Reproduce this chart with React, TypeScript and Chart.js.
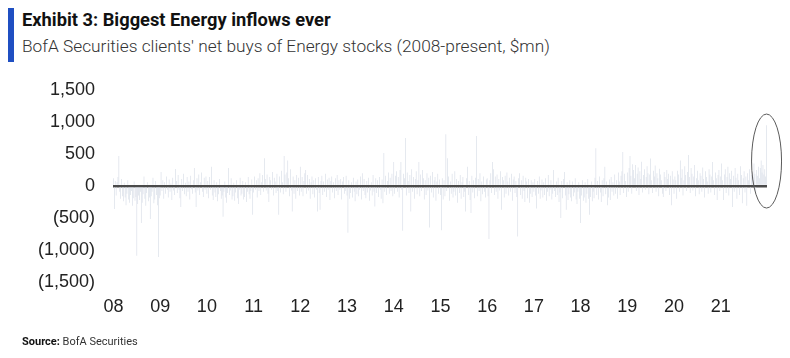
import React, { useEffect, useRef } from "react";
import { Chart, registerables } from "chart.js";

Chart.register(...registerables);

const yearLabels = ["08", "09", "10", "11", "12", "13", "14", "15", "16", "17", "18", "19", "20", "21"];

const y2008 = [120, -360, 80, -150, 60, 140, 470, -90, -200, 110, -160, -240, 50, -180, -300, -120, 90, -210, -260, -140, -80, -310, -190, 70, -230, -170, -1090, -280, -150, -220, -90, -580, -260, -130, 150, -200, -310, -110, 60, -240, -180, -515, -160, -90, 130, -270, -210, 80, -140, -300, -1110, -190];
const y2009 = [-150, 220, -80, 90, -200, 60, -120, 150, -60, -180, 100, -90, 40, -220, 130, -70, -140, 265, 80, -110, 170, -60, -190, -330, 110, -80, 190, -130, 50, -160, 140, -90, 70, -210, 160, -50, -120, 90, 280, -100, -330, 120, -70, 180, -140, 60, 210, -90, -170, 130, -60, 150];
const y2010 = [-120, 80, -190, 140, -60, 300, -150, -220, 90, -100, -170, 60, -240, -130, 110, -80, -200, -150, -480, -90, 70, -180, -260, -110, 280, -140, -70, 120, -210, -160, 50, -230, -100, 90, -190, -280, -60, 130, -150, -120, 80, -210, -170, 60, -250, -90, 140, -130, -200, -80, 100, -450];
const y2011 = [-100, 150, -60, 90, -180, 120, -80, 200, -140, 60, 170, -90, 435, 110, -70, 180, -120, -250, 140, 90, -60, 220, -150, 130, 70, -110, 190, -80, -450, 150, -100, 240, 60, -130, 470, 180, -90, 210, 400, 120, -160, 260, -70, -400, 150, -120, 90, -200, 170, -80, 130, -150];
const y2012 = [300, -90, 140, -160, 80, 200, 250, -120, 170, -70, 110, -200, 60, 150, -130, 90, -180, 120, -60, -400, 140, -110, -370, 80, 160, -140, 70, -90, 190, -170, 100, -60, 130, -220, 80, 150, -100, 60, -190, 120, -80, 170, -140, 90, -60, 110, -210, 70, 140, -120, -80, 160];
const y2013 = [-150, -730, 90, -200, -110, 60, -180, 130, -90, -240, 70, -130, 100, -160, -60, 150, -210, 200, -80, 110, -140, -190, 80, -100, 130, -230, -70, 60, -150, 170, -90, -320, 120, -110, 90, -170, 140, -60, -200, 100, -270, 515, -90, 160, -140, 80, 210, -120, 130, -80, 190, -160];
const y2014 = [375, -120, 160, 230, -90, 140, -180, 250, 375, -60, -700, 190, 120, 750, -150, 210, 80, -110, 170, -400, 260, -90, 140, -200, 110, 230, -130, 90, 375, -160, 180, -80, 250, 120, -210, 90, -140, 200, -70, 130, -650, 160, -100, 220, -180, 90, 140, -230, 70, 190, -120, 100];
const y2015 = [-140, -690, 120, -210, 90, -160, 810, -80, 435, 150, -230, 70, -120, 190, -180, -90, 230, -150, 110, -260, 80, -110, 170, -200, 60, 140, -170, -90, -400, 120, 300, -140, 80, -220, -420, 160, -100, 90, -190, 130, 780, -160, 110, -80, 200, -240, 70, -130, 150, -90, -180, 100];
const y2016 = [120, -160, -830, 90, 200, -110, 375, 260, -140, 150, -90, 180, -200, 110, -70, 230, -370, 140, 90, -180, 160, -120, 210, 70, -150, 130, -90, 190, -230, 100, 150, -110, 80, -170, -790, 120, 200, -140, 90, -200, 160, -80, -250, 130, 70, -190, 110, -260, -120, 90, -170, 60];
const y2017 = [-90, 110, -150, -350, 80, -120, 150, -200, -70, 100, -180, 60, -140, 120, -230, -90, 170, -160, -60, 90, -210, -120, 250, -80, -170, 70, -140, 130, -250, -100, -500, 80, -190, 110, 220, -150, -370, 60, -220, -130, 90, -180, -240, 70, -160, -100, 120, -210, -280, -90, 60, -200];
const y2018 = [-580, -150, 90, -230, -180, 60, -260, -120, 110, -200, -450, -170, 70, -240, -90, -190, 130, 590, -140, 80, -210, 150, -100, -250, 90, -160, 120, 300, -130, 70, -300, -180, 100, -220, 140, -90, 60, -150, 180, -120, 90, -200, 210, 70, -140, 160, 230, 530, -110, 190, 80, -170];
const y2019 = [210, -90, 280, 470, 160, -120, 340, 250, 120, 330, -80, 190, 290, -140, 230, 110, 380, -100, 170, 260, -60, 140, 310, 200, -130, 180, 430, 90, -110, 240, 150, 320, -90, 200, 120, -160, 270, 180, 90, -120, -170, 220, 140, -80, 250, 110, 190, -140, 160, -300, 230, 100];
const y2020 = [-120, 150, 90, -200, 240, 180, -90, 400, 130, 260, -150, 90, 310, 170, -80, 220, 485, 140, -110, 280, 190, -70, 150, 330, -160, 120, 240, 90, -130, 200, 160, -90, 290, 110, -180, 230, 140, 70, -120, 260, 180, -100, 150, 375, 90, -140, 210, 120, -220, 170, 250, -80];
const y2021 = [150, 350, 90, -220, 180, 260, -110, 140, 300, -150, 200, 110, 240, -330, 160, -90, 280, 130, -200, 190, 90, -140, 310, 170, -270, 120, 230, -100, 150, -310, 200, 90, 260, -120, 170, 220, 140, 350, 190, -110, 250, 160, 300, 120, 280, 400, 210, 330, 180, 260, 150, 950];

const yearSeries = [y2008, y2009, y2010, y2011, y2012, y2013, y2014, y2015, y2016, y2017, y2018, y2019, y2020, y2021];
const yTicks = [-1500, -1000, -500, 0, 500, 1000, 1500];

const netBuys: number[] = yearSeries.flat();
const categories: string[] = [];
yearSeries.forEach((arr, yi) => {
  arr.forEach((_, wi) => categories.push(wi === 0 ? yearLabels[yi] : ""));
});

const fmt = (v: number) => {
  const s = Math.abs(v).toLocaleString("en-US");
  return v < 0 ? `(${s})` : s;
};

const AXIS_FONT = "'Liberation Sans', Arial, sans-serif";

const ellipsePlugin = {
  id: "ellipseMark",
  afterDraw(chart: any) {
    const meta = chart.getDatasetMeta(0);
    const last = meta.data[meta.data.length - 1];
    if (!last) return;
    const ys = chart.scales.y;
    const cx = last.x;
    const cy = ys.getPixelForValue(390);
    const ctx = chart.ctx;
    ctx.save();
    ctx.beginPath();
    ctx.ellipse(cx, cy, 15, 47, 0, 0, Math.PI * 2);
    ctx.strokeStyle = "#5a5a5a";
    ctx.lineWidth = 1;
    ctx.stroke();
    ctx.restore();
  },
};

export default function App() {
  const ref = useRef<HTMLCanvasElement | null>(null);

  useEffect(() => {
    if (!ref.current) return;
    const chart = new Chart(ref.current, {
      type: "bar",
      data: {
        labels: categories,
        datasets: [
          {
            data: netBuys,
            backgroundColor: "#d9dee8",
            barPercentage: 0.75,
            categoryPercentage: 1,
          },
        ],
      },
      options: {
        responsive: false,
        animation: false,
        layout: { padding: { top: 82, right: 15, left: 0, bottom: 0 } },
        plugins: { legend: { display: false }, tooltip: { enabled: false } },
        scales: {
          x: {
            grid: { display: false },
            border: { display: false },
            ticks: {
              autoSkip: false,
              maxRotation: 0,
              padding: 6,
              color: "#222",
              font: { family: AXIS_FONT, size: 18 },
              callback: (_v: any, i: number) => categories[i],
            },
            afterFit: (s: any) => {
              s.height = 68;
            },
          },
          y: {
            min: -1500,
            max: 1500,
            z: 1,
            border: { display: false },
            grid: {
              drawTicks: false,
              color: (c: any) => (c.tick && c.tick.value === 0 ? "#4a4a4a" : "rgba(0,0,0,0)"),
              lineWidth: 2.5,
            },
            afterBuildTicks: (s: any) => {
              s.ticks = yTicks.map((v) => ({ value: v }));
            },
            ticks: {
              padding: 18,
              color: "#222",
              font: { family: AXIS_FONT, size: 18 },
              callback: (v: any) => fmt(Number(v)),
            },
            afterFit: (s: any) => {
              s.width = 105;
            },
          },
        },
      },
      plugins: [ellipsePlugin],
    });
    return () => chart.destroy();
  }, []);

  return (
    <div style={{ position: "relative", width: 774, height: 342, fontFamily: "Roboto, 'Noto Sans', sans-serif" }}>
      <div style={{ position: "absolute", left: 0, top: -3, width: 6, height: 57, background: "#1f4fc2" }} />
      <div style={{ position: "absolute", left: 14, top: 1, fontSize: 18.3, fontWeight: 700, color: "#111", lineHeight: "22px", whiteSpace: "nowrap" }}>
        Exhibit 3: Biggest Energy inflows ever
      </div>
      <div style={{ position: "absolute", left: 14, top: 27, fontSize: 17.3, fontWeight: 300, color: "#333", lineHeight: "22px", whiteSpace: "nowrap" }}>
        BofA Securities clients' net buys of Energy stocks (2008-present, $mn)
      </div>
      <canvas ref={ref} width={774} height={342} style={{ position: "absolute", left: 0, top: 0 }} />
      <div style={{ position: "absolute", left: 14, top: 326, fontSize: 11, color: "#333", lineHeight: "16px", whiteSpace: "nowrap" }}>
        <span style={{ fontWeight: 700, color: "#111" }}>Source:</span> BofA Securities
      </div>
    </div>
  );
}
